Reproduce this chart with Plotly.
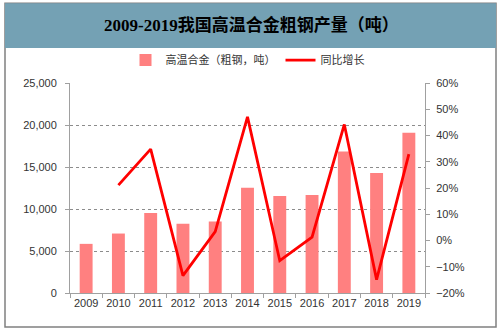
import plotly.graph_objects as go

years = ["2009", "2010", "2011", "2012", "2013", "2014", "2015", "2016", "2017", "2018", "2019"]
output_t = [5850, 7080, 9530, 8230, 8500, 12540, 11550, 11670, 16850, 14280, 19070]
growth = [None, 0.211, 0.348, -0.134, 0.034, 0.471, -0.077, 0.013, 0.442, -0.149, 0.329]

bar_name = "高温合金（粗钢，吨）"
line_name = "同比增长"
title = "2009-2019我国高温合金粗钢产量（吨）"

fig = go.Figure()
fig.add_trace(go.Bar(x=years, y=output_t, name=bar_name, marker=dict(color="#FF8080", line=dict(width=0)),
                     width=0.4, yaxis="y"))
fig.add_trace(go.Scatter(x=years, y=growth, name=line_name, mode="lines",
                         line=dict(color="#FF0000", width=2.8), yaxis="y2", connectgaps=False))

tickfont = dict(family="Liberation Sans, Arial, sans-serif", size=11, color="#333333")

fig.update_layout(
    width=503, height=332,
    margin=dict(l=70, r=78, t=83, b=39),
    paper_bgcolor="white", plot_bgcolor="white",
    showlegend=True,
    legend=dict(orientation="h", x=0.5, xanchor="center", y=1 + (83-60)/210.5, yanchor="middle",
                font=dict(family="Noto Sans CJK SC", size=11, color="#333333"),
                bgcolor="rgba(0,0,0,0)", itemwidth=30, traceorder="normal"),
    bargap=0.6,
    xaxis=dict(type="category", showline=True, linecolor="#A0A0A0", linewidth=1,
               ticks="outside", tickson="boundaries", ticklen=4, tickcolor="#A0A0A0",
               tickfont=tickfont, showgrid=False, tickangle=0),
    yaxis=dict(range=[0, 25000], dtick=5000, tickformat=",d", showline=True, linecolor="#A0A0A0",
               linewidth=1, ticks="outside", ticklen=4, tickcolor="#A0A0A0", tickfont=tickfont,
               showgrid=True, gridcolor="#8C8C8C", griddash="dot", gridwidth=1, zeroline=False,
               ticklabelstandoff=6),
    yaxis2=dict(range=[-0.2, 0.6], dtick=0.1, tickformat=".0%", overlaying="y", side="right",
                showline=True, linecolor="#A0A0A0", linewidth=1, ticks="outside", ticklen=4,
                tickcolor="#A0A0A0", tickfont=tickfont, showgrid=False, zeroline=False,
                ticklabelstandoff=4),
    shapes=[
        dict(type="rect", xref="paper", yref="paper", x0=-65/355, x1=(496-70)/355,
             y0=-(327-293)/210.5, y1=1 + (83-3)/210.5, line=dict(color="#808080", width=1.5),
             fillcolor="rgba(0,0,0,0)", layer="below"),
        dict(type="rect", xref="paper", yref="paper", x0=-65/355, x1=(496-70)/355,
             y0=1 + (83-48)/210.5, y1=1 + (83-3)/210.5, line=dict(width=0),
             fillcolor="#74A1B4", layer="below"),
    ],
    annotations=[
        dict(text="<b>" + title + "</b>", xref="paper", yref="paper", x=(251-70)/355,
             y=1 + (83-25)/210.5, xanchor="center", yanchor="middle", showarrow=False,
             font=dict(family="Liberation Serif, Noto Sans CJK SC", size=17, color="#000000")),
    ],
)

fig.write_html("out.html")
